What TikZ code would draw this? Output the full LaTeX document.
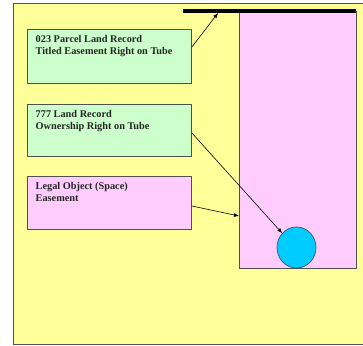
\documentclass[tikz,border=0pt]{standalone}
\usepackage{fontspec}
\setmainfont{Liberation Serif}
\usetikzlibrary{arrows.meta,shapes.geometric}
\definecolor{bgyellow}{HTML}{FFFF99}
\definecolor{boxgreen}{HTML}{CCFFCC}
\definecolor{boxpink}{HTML}{FFCCFF}
\definecolor{tubecyan}{HTML}{00CCFF}
\definecolor{edgegray}{HTML}{505050}
\tikzset{
  recbox/.style={draw=edgegray, line width=0.9pt, minimum width=164pt, minimum height=54pt, inner sep=0pt},
  boxtext/.style={anchor=north west, align=left, font=\fontsize{10.3pt}{12.4pt}\selectfont\bfseries, text=black!85, inner sep=0pt},
  arr/.style={-{Latex[length=5pt,width=4pt]}, line width=0.6pt, black},
}
\begin{document}
\begin{tikzpicture}[x=1pt,y=-1pt]
\useasboundingbox (0,0) rectangle (363,345);
\fill[white] (0,0) rectangle (363,345);
\draw[fill=bgyellow, draw=edgegray, line width=0.8pt] (13,3) rectangle (366,344);
% tall pink space
\draw[fill=boxpink, draw=edgegray, line width=0.9pt] (239,11) rectangle (356,268);
\coordinate (barL) at (183,11);
\coordinate (barR) at (356,11);
\draw[line width=4pt, black] (barL) -- (barR);
\node[draw=edgegray, line width=0.7pt, fill=tubecyan, ellipse, minimum width=39pt, minimum height=41pt, inner sep=0pt] (tube) at (296.5,247.5) {};
% boxes
\node[recbox, fill=boxgreen, anchor=north west] (b1) at (27,29) {};
\node[boxtext] (t1) at (35.5,35) {023 Parcel Land Record\\Titled Easement Right on Tube};
\node[recbox, fill=boxgreen, anchor=north west, minimum height=52pt] (b2) at (27,104) {};
\node[boxtext] (t2) at (35.5,110) {777 Land Record\\Ownership Right on Tube};
\node[recbox, fill=boxpink, anchor=north west, minimum height=53pt] (b3) at (27,176) {};
\node[boxtext] (t3) at (35.5,182) {Legal Object (Space)\\Easement};
% arrows
\coordinate (a1e) at (218,13);
\coordinate (a3e) at (239,216);
\draw[arr] ([yshift=-18pt]b1.north east) -- (a1e);
\draw[arr] ([yshift=-29pt]b2.north east) -- (tube.135);
\draw[arr] ([yshift=-30pt]b3.north east) -- (a3e);
\end{tikzpicture}
\end{document}
